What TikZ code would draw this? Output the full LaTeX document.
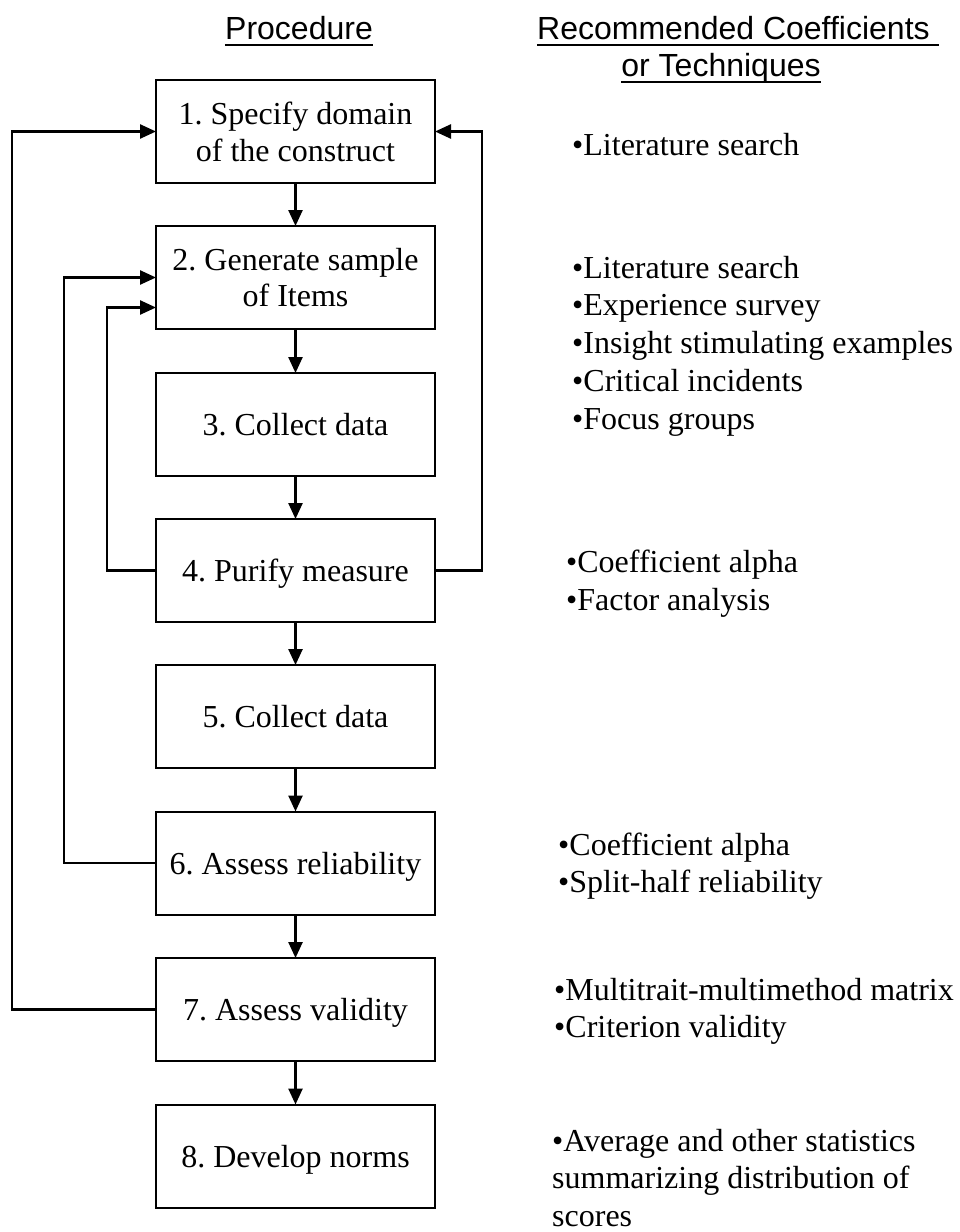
\documentclass[tikz,border=0pt]{standalone}
\usepackage{fontspec}
\setmainfont{Liberation Serif}
\newfontfamily\headfont{Liberation Sans}
\usetikzlibrary{arrows.meta}
\frenchspacing
\begin{document}
\begin{tikzpicture}[x=1pt,y=-1pt,
  stepbox/.style={draw,line width=2pt,minimum width=279pt,minimum height=103pt,
    inner sep=0pt,outer sep=0pt,align=center,font=\fontsize{32}{36.8}\selectfont},
  oneline/.style={text height=22.4pt,text depth=0pt},
  link/.style={line width=2.5pt,-{Triangle[length=16pt,width=14pt]}},
  note/.style={anchor=base west,inner sep=0pt,font=\fontsize{32}{37.5}\selectfont},
  head/.style={anchor=base,inner sep=0pt,font=\headfont\fontsize{32}{37}\selectfont},
  headrule/.style={line width=2.2pt}
]
\useasboundingbox (0,0) rectangle (959,1232);

% column headings
\node[head] (proc) at (299,39) {Procedure};
\draw[headrule] ([yshift=-6pt]proc.base west) -- ([yshift=-6pt]proc.base east);
\node[head,anchor=base west] (rec1) at (537,39) {Recommended Coefficients};
\draw[headrule] ([yshift=-6pt]rec1.base west) -- ([yshift=-6pt,xshift=9pt]rec1.base east);
\node[head] (rec2) at (721,76) {or Techniques};
\draw[headrule] ([yshift=-6pt]rec2.base west) -- ([yshift=-6pt]rec2.base east);

% procedure steps
\node[stepbox] (b1) at (295.5,131.5) {1. Specify domain\\of the construct};
\node[stepbox] (b2) at (295.5,277.5) {2. Generate sample\\of Items};
\node[stepbox,oneline] (b3) at (295.5,424.5) {3. Collect data};
\node[stepbox,oneline] (b4) at (295.5,570.5) {4. Purify measure};
\node[stepbox,oneline] (b5) at (295.5,716.5) {5. Collect data};
\node[stepbox,oneline] (b6) at (295.5,863) {6. Assess reliability};
\node[stepbox,oneline] (b7) at (295.5,1009.5) {7. Assess validity};
\node[stepbox,oneline] (b8) at (295.5,1156) {8. Develop norms};

% forward flow
\draw[link] (b1) -- (b2);
\draw[link] (b2) -- (b3);
\draw[link] (b3) -- (b4);
\draw[link] (b4) -- (b5);
\draw[link] (b5) -- (b6);
\draw[link] (b6) -- (b7);
\draw[link] (b7) -- (b8);

% feedback loops
\draw[link] (b4.east) -- ++(47,0) |- (b1.east);
\draw[link] (b4.west) -- ++(-49,0) |- ([yshift=-30pt]b2.west);
\draw[link] (b6.west) -- ++(-92,0) |- (b2.west);
\draw[link] (b7.west) -- ++(-144,0) |- (b1.west);

% recommended coefficients or techniques
\node[note] (t1) at (572,155) {•Literature search};

\node[note] (t2a) at (572,278) {•Literature search};
\node[note] (t2b) at (572,315.5) {•Experience survey};
\node[note] (t2c) at (572,353) {•Insight stimulating examples};
\node[note] (t2d) at (572,391) {•Critical incidents};
\node[note] (t2e) at (572,429) {•Focus groups};

\node[note] (t4a) at (566,572) {•Coefficient alpha};
\node[note] (t4b) at (566,610) {•Factor analysis};

\node[note] (t6a) at (558,855) {•Coefficient alpha};
\node[note] (t6b) at (558,892) {•Split-half reliability};

\node[note] (t7a) at (554,1000) {•Multitrait-multimethod matrix};
\node[note] (t7b) at (554,1037) {•Criterion validity};

\node[note] (t8a) at (552,1151) {•Average and other statistics};
\node[note] (t8b) at (552,1188.5) {summarizing distribution of};
\node[note] (t8c) at (552,1226) {scores};
\end{tikzpicture}
\end{document}
